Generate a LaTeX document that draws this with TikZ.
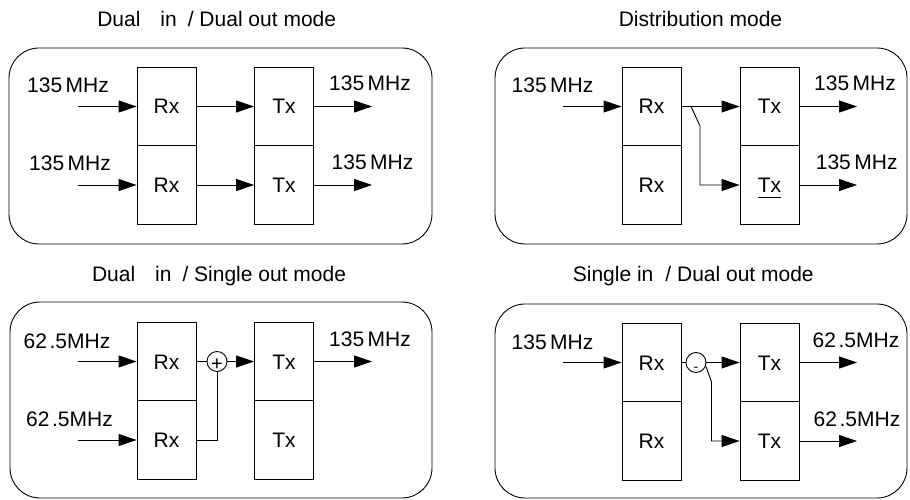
\documentclass[tikz,border=0pt]{standalone}
\usepackage{fontspec}
\setmainfont{Liberation Sans}
\usetikzlibrary{arrows.meta}
\begin{document}
\begin{tikzpicture}[x=1pt,y=-1pt,
 every node/.style={font=\fontsize{21}{25}\selectfont},
 blk/.style={draw,line width=0.9pt,minimum width=59pt,minimum height=78.5pt,inner sep=0pt,text height=15pt,text depth=0pt},
 panel/.style={draw,line width=0.9pt,rounded corners=30pt},
 lbl/.style={anchor=base,inner sep=0pt},
 ttl/.style={anchor=base,inner sep=0pt},
 wire/.style={line width=0.9pt},
 arr/.style={wire,-{Triangle[length=18pt,width=12pt]}},
 sumc/.style={draw,circle,line width=0.9pt,minimum size=20pt,inner sep=0pt,text height=0pt,text depth=0pt}]
\useasboundingbox (0,0) rectangle (910,500);
% ---------- panel 1
\draw[panel] (9,48) rectangle (432,244);
\node[ttl] (t1) at (216.7,26.7) {Dual\hspace{20pt}in\hspace{11pt}/ Dual out mode};
\node[blk] (r1a) at (166.5,106.5) {Rx};
\node[blk] (r1b) at (166.5,185) {Rx};
\node[blk] (x1a) at (284,106.5) {Tx};
\node[blk] (x1b) at (284,185) {Tx};
\coordinate (i1a) at (78,106.5);
\coordinate (i1b) at (78,185);
\coordinate (o1a) at (372,106.5);
\coordinate (o1b) at (372,185);
\draw[arr] (i1a) -- (r1a);
\draw[arr] (i1b) -- (r1b);
\draw[arr] (r1a) -- (x1a);
\draw[arr] (r1b) -- (x1b);
\draw[arr] (x1a) -- (o1a);
\draw[arr] (x1b) -- (o1b);
\node[lbl] (l1a) at (68,92.3) {135\kern3.5pt MHz};
\node[lbl] (l1b) at (70,170.7) {135\kern3.5pt MHz};
\node[lbl] (l1c) at (370,90.7) {135\kern3.5pt MHz};
\node[lbl] (l1d) at (372.5,169.3) {135\kern3.5pt MHz};
% ---------- panel 2
\draw[panel] (495,48) rectangle (907,244);
\node[ttl] (t2) at (700.5,26.7) {Distribution mode};
\node[blk] (r2a) at (651.5,106.5) {Rx};
\node[blk] (r2b) at (651.5,185) {Rx};
\node[blk] (x2a) at (769.5,106.5) {Tx};
\node[blk] (x2b) at (769.5,185) {\underline{\raisebox{0pt}[\height][3.5pt]{Tx}}};
\coordinate (i2a) at (563,106.5);
\coordinate (o2a) at (857,106.5);
\coordinate (o2b) at (857,185);
\coordinate (s2a) at (691,106.5);
\coordinate (s2b) at (700,126);
\draw[arr] (i2a) -- (r2a);
\draw[arr] (r2a) -- (x2a);
\draw[arr] (s2a) -- (s2b) |- (x2b);
\draw[arr] (x2a) -- (o2a);
\draw[arr] (x2b) -- (o2b);
\node[lbl] (l2a) at (552.5,92.3) {135\kern3.5pt MHz};
\node[lbl] (l2c) at (855,90.7) {135\kern3.5pt MHz};
\node[lbl] (l2d) at (856.7,169.3) {135\kern3.5pt MHz};
% ---------- panel 3
\draw[panel] (10,302) rectangle (432,498);
\node[ttl] (t3) at (219,281) {Dual\hspace{20pt}in\hspace{11pt}/ Single out mode};
\node[blk] (r3a) at (166.5,361.5) {Rx};
\node[blk] (r3b) at (166.5,440) {Rx};
\node[blk] (x3a) at (284,361.5) {Tx};
\node[blk] (x3b) at (284,440) {Tx};
\node[sumc] (p3) at (217,361.5) {\fontsize{20}{20}\selectfont\raisebox{-9pt}[0pt][0pt]{+}};
\coordinate (i3a) at (78,361.5);
\coordinate (i3b) at (78,440);
\coordinate (o3a) at (372,361.5);
\draw[arr] (i3a) -- (r3a);
\draw[arr] (i3b) -- (r3b);
\draw[wire] (r3a) -- (p3);
\draw[arr] (p3) -- (x3a);
\draw[wire] (r3b) -| (p3);
\draw[arr] (x3a) -- (o3a);
\node[lbl] (l3a) at (67,348) {62\kern2.5pt.5MHz};
\node[lbl] (l3b) at (69.5,426.7) {62\kern2.5pt.5MHz};
\node[lbl] (l3c) at (370,346.7) {135\kern3.5pt MHz};
% ---------- panel 4
\draw[panel] (495,304) rectangle (907,498);
\node[ttl] (t4) at (693.3,281.7) {Single in\hspace{12pt}/ Dual out mode};
\node[blk] (r4a) at (651.5,362.5) {Rx};
\node[blk] (r4b) at (651.5,441) {Rx};
\node[blk] (x4a) at (769.5,362.5) {Tx};
\node[blk] (x4b) at (769.5,441) {Tx};
\node[sumc] (m4) at (696,362.5) {\fontsize{14}{14}\selectfont\raisebox{-9pt}[0pt][0pt]{-}};
\coordinate (i4a) at (563,362.5);
\coordinate (o4a) at (857,362.5);
\coordinate (o4b) at (857,441);
\coordinate (k4) at (711.5,382);
\draw[arr] (i4a) -- (r4a);
\draw[wire] (r4a) -- (m4);
\draw[arr] (m4) -- (x4a);
\draw[arr] (m4.-20) -- (k4) |- (x4b);
\draw[arr] (x4a) -- (o4a);
\draw[arr] (x4b) -- (o4b);
\node[lbl] (l4a) at (552.5,349) {135\kern3.5pt MHz};
\node[lbl] (l4c) at (856,347.7) {62\kern2.5pt.5MHz};
\node[lbl] (l4d) at (857,426.7) {62\kern2.5pt.5MHz};
\end{tikzpicture}
\end{document}
